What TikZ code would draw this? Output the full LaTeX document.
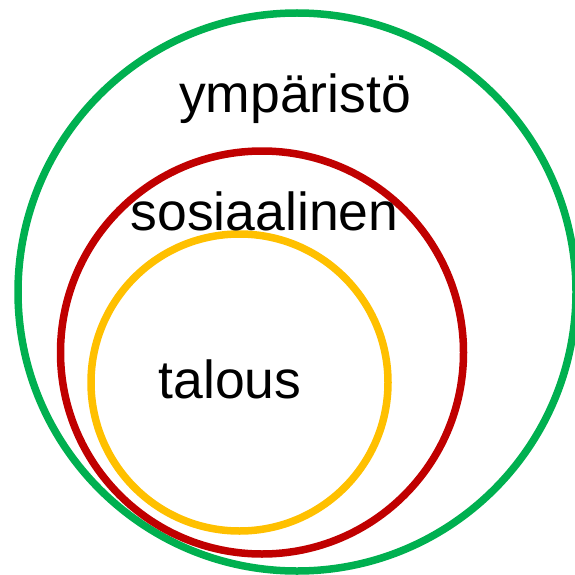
\documentclass[tikz,border=0pt]{standalone}
\usepackage{fontspec}
\setmainfont{Liberation Sans}
\definecolor{ymgreen}{RGB}{0,176,80}
\definecolor{sored}{RGB}{192,0,0}
\definecolor{tagold}{RGB}{255,192,0}
\begin{document}
\begin{tikzpicture}[x=1pt,y=-1pt]


\tikzset{ring/.style={circle,draw,line width=7.5pt,inner sep=0pt},}
\tikzset{word/.style={anchor=base,inner sep=0pt,font=\fontsize{53.5}{60}\selectfont},}
\useasboundingbox (0,0) rectangle (574,575);
	\draw
		(297,292) node[ring,ymgreen,minimum size=558pt] (env) {}
		(262,352.5) node[ring,sored,minimum size=403pt] (soc) {}
		(239.5,382.5) node[ring,tagold,minimum size=297pt] (eco) {}
		
		(295,113) node[word] (envt) {ympäristö}
		(264.5,230) node[word] (soct) {sosiaalinen}
		(230,398) node[word] (ecot) {talous}
;


\end{tikzpicture}
\end{document}
